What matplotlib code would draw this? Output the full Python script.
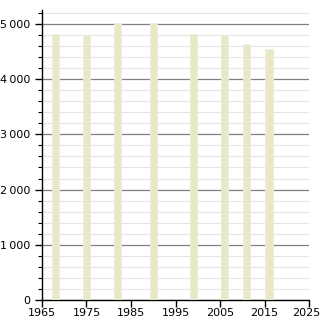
import matplotlib.pyplot as plt
from matplotlib.ticker import MultipleLocator, FuncFormatter
from matplotlib.transforms import ScaledTranslation

years = [1968, 1975, 1982, 1990, 1999, 2006, 2011, 2016]
population = [4813, 4795, 5012, 5010, 4819, 4795, 4638, 4542]
xticks = [1965, 1975, 1985, 1995, 2005, 2015, 2025]

fig = plt.figure(figsize=(3.2, 3.2), dpi=100)
ax = fig.add_axes([0.131, 0.0625, 0.835, 0.906])

ax.bar(years, population, width=1.6, color='#e8e8c8', edgecolor='#eeeed8', linewidth=0.6, zorder=3)

ax.set_xlim(1965, 2025)
ax.set_ylim(0, 5250)
ax.set_xticks(xticks)
ax.yaxis.set_major_locator(MultipleLocator(1000))
ax.yaxis.set_minor_locator(MultipleLocator(200))
ax.yaxis.set_major_formatter(FuncFormatter(lambda v, p: f"{int(v):,}".replace(',', '\u2009')))

ax.grid(axis='y', which='major', color='#7f7f7f', linewidth=0.9, zorder=1)
ax.grid(axis='y', which='minor', color='#e4e4e4', linewidth=0.8, zorder=1)
ax.set_axisbelow(True)

for s in ['top', 'right']:
    ax.spines[s].set_visible(False)
ax.spines['left'].set_linewidth(1)
ax.spines['bottom'].set_linewidth(1)
ax.tick_params(axis='both', labelsize=8, length=5, width=1, direction='out')
ax.tick_params(axis='x', pad=1)
ax.tick_params(axis='y', which='minor', length=3, width=0.8)

# nudge the last year label so it stays inside the image
last = ax.get_xticklabels()[-1]
last.set_transform(last.get_transform() + ScaledTranslation(-3 / 100, 0, fig.dpi_scale_trans))

fig.savefig('out.png', dpi=100)
